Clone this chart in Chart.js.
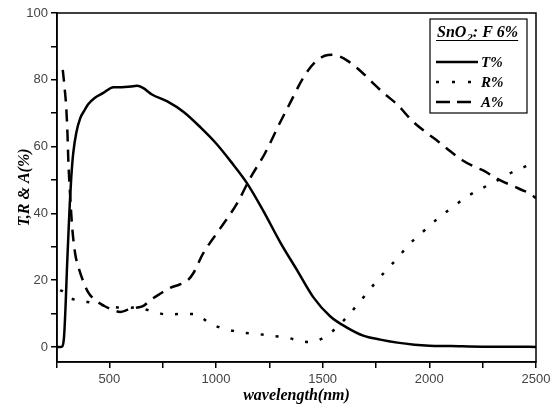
<!DOCTYPE html>
<html>
<head>
<meta charset="utf-8">
<script src="https://cdn.jsdelivr.net/npm/chart.js@4.4.1/dist/chart.umd.min.js"></script>
<style>
  html, body { margin: 0; padding: 0; background: #fff; }
  #wrap { width: 557px; height: 405px; }
</style>
</head>
<body>
<div id="wrap"><canvas id="c" width="557" height="405"></canvas></div>
<script>
// ---- data ----
const tWavelength = [255, 270, 280, 288, 295, 302, 308, 315, 322, 331, 345, 364, 385, 401, 430, 470, 520, 560, 600, 630, 660, 700, 770, 850, 930, 1000, 1070, 1146, 1220, 1300, 1380, 1455, 1535, 1614, 1690, 1770, 1850, 1930, 2000, 2100, 2250, 2400, 2500];
const tValues     = [0, 0, 0.2, 3, 12, 24, 33, 43, 51, 58, 64, 68.5, 71, 72.7, 74.5, 76, 77.8, 77.8, 78, 78.2, 77.5, 75.6, 73.6, 70.3, 65.6, 61, 55.5, 49, 41, 31.5, 23, 15, 9.2, 5.8, 3.4, 2.2, 1.3, 0.7, 0.4, 0.3, 0.1, 0.1, 0];

const rWavelength = [270, 284, 300, 320, 350, 385, 420, 470, 520, 565, 631, 665, 700, 771, 841, 907, 940, 973, 1043, 1123, 1193, 1263, 1333, 1394, 1430, 1474, 1510, 1544, 1580, 1614, 1670, 1731, 1787, 1848, 1904, 1970, 2040, 2106, 2176, 2247, 2317, 2378, 2448, 2500];
const rValues     = [17, 16.5, 15, 14.5, 14, 13.6, 13.2, 12.5, 12, 11.7, 11.8, 11.3, 10.8, 9.7, 9.9, 9.8, 8.5, 7, 5.4, 4.3, 3.9, 3.3, 2.8, 1.8, 1.5, 1.9, 3, 4.6, 6.7, 9, 13.2, 18, 22.2, 26.4, 30.6, 34.5, 38.5, 41.7, 45, 47.5, 49.8, 52, 54, 55.5];

const aWavelength = [282, 290, 298, 304, 308, 316, 326, 340, 355, 373, 400, 434, 471, 510, 551, 590, 631, 660, 692, 740, 785, 830, 865, 893, 940, 1020, 1099, 1160, 1230, 1291, 1347, 1408, 1460, 1510, 1545, 1580, 1619, 1680, 1736, 1790, 1848, 1923, 2000, 2040, 2100, 2153, 2210, 2261, 2300, 2345, 2390, 2434, 2470, 2500];
const aValues     = [83, 78, 72, 64, 56, 46, 36, 28, 24, 20.5, 16.5, 14, 12.5, 11.3, 10.5, 11.2, 11.8, 12.3, 14, 16, 17.7, 18.7, 19.8, 22, 28, 35.5, 43, 50.5, 58, 66, 73, 80.5, 85, 87.2, 87.5, 87, 85.6, 82.5, 79, 75.8, 72.7, 67.5, 63.5, 61.6, 58.5, 56, 54, 52.6, 51, 49.5, 48.3, 47, 46, 44.5];

const xTickValues = [255, 500, 750, 1000, 1250, 1500, 1750, 2000, 2250, 2500];
const yTickValues = [0, 10, 20, 30, 40, 50, 60, 70, 80, 90, 100];
const seriesLabels = ['T%', 'R%', 'A%'];
const legendTitle = ['SnO', '2', ': F 6%'];
const xTitle = 'wavelength(nm)';
const yTitle = 'T,R & A(%)';

function pts(xs, ys) { return xs.map((x, i) => ({ x: x, y: ys[i] })); }

const serif = '"Liberation Serif", "Times New Roman", serif';

const framePlugin = {
  id: 'frameAndLegend',
  afterDraw(chart) {
    const ctx = chart.ctx;
    const a = chart.chartArea;
    ctx.save();
    // plot frame
    ctx.strokeStyle = '#000';
    ctx.lineWidth = 1.5;
    ctx.strokeRect(a.left, a.top, a.right - a.left, a.bottom - a.top);

    // legend box
    const bx = 430, by = 19, bw = 97, bh = 94;
    ctx.fillStyle = '#fff';
    ctx.fillRect(bx, by, bw, bh);
    ctx.lineWidth = 1.2;
    ctx.strokeRect(bx, by, bw, bh);

    // legend title with subscript and underline
    ctx.fillStyle = '#000';
    ctx.textBaseline = 'alphabetic';
    ctx.textAlign = 'left';
    let x = 437;
    const base = 37;
    ctx.font = 'bold italic 16px ' + serif;
    ctx.fillText(legendTitle[0], x, base);
    x += ctx.measureText(legendTitle[0]).width + 1;
    ctx.font = 'bold italic 11px ' + serif;
    ctx.fillText(legendTitle[1], x, base + 4);
    x += ctx.measureText(legendTitle[1]).width;
    ctx.font = 'bold italic 16px ' + serif;
    ctx.fillText(legendTitle[2], x, base);
    x += ctx.measureText(legendTitle[2]).width;
    ctx.lineWidth = 1;
    ctx.beginPath();
    ctx.moveTo(436, base + 3.5);
    ctx.lineTo(x, base + 3.5);
    ctx.stroke();

    // legend entries
    const ds = chart.data.datasets;
    const rows = [62, 82, 102];
    ctx.font = 'bold italic 15px ' + serif;
    rows.forEach((y, i) => {
      const d = ds[i];
      ctx.save();
      ctx.strokeStyle = '#000';
      ctx.lineWidth = d.borderWidth;
      ctx.lineCap = 'butt';
      if (i === 1) ctx.setLineDash([3, 13]);
      if (i === 2) ctx.setLineDash([14, 7]);
      ctx.beginPath();
      ctx.moveTo(436, y);
      ctx.lineTo(478, y);
      ctx.stroke();
      ctx.restore();
      ctx.fillStyle = '#000';
      ctx.textBaseline = 'middle';
      ctx.fillText(d.label, 481, y + 1);
    });
    ctx.restore();
  }
};

new Chart(document.getElementById('c'), {
  type: 'scatter',
  data: {
    datasets: [
      { label: seriesLabels[0], data: pts(tWavelength, tValues), showLine: true, borderColor: '#000', borderWidth: 2.5, pointRadius: 0, cubicInterpolationMode: 'monotone' },
      { label: seriesLabels[1], data: pts(rWavelength, rValues), showLine: true, borderColor: '#000', borderWidth: 2.5, borderDash: [3, 12], pointRadius: 0, cubicInterpolationMode: 'monotone' },
      { label: seriesLabels[2], data: pts(aWavelength, aValues), showLine: true, borderColor: '#000', borderWidth: 2.5, borderDash: [12, 8], pointRadius: 0, cubicInterpolationMode: 'monotone' }
    ]
  },
  options: {
    responsive: false,
    animation: false,
    devicePixelRatio: 1,
    layout: { padding: { top: 13, right: 21, left: 0, bottom: 0 } },
    plugins: { legend: { display: false }, tooltip: { enabled: false } },
    scales: {
      x: {
        type: 'linear',
        min: 255, max: 2500,
        afterBuildTicks: s => { s.ticks = xTickValues.map(v => ({ value: v })); },
        afterFit: s => { s.height = 43; },
        ticks: {
          autoSkip: false, maxRotation: 0, padding: 4,
          color: '#444', font: { family: '"Liberation Sans", Arial, sans-serif', size: 13 },
          callback: v => (v % 500 === 0 ? String(v) : '')
        },
        grid: { drawOnChartArea: false, drawTicks: true, tickLength: 6, color: '#000', lineWidth: 1.5 },
        border: { display: true, color: '#000', width: 1.5 },
        title: { display: true, text: xTitle, color: '#000', padding: { top: 0, bottom: 0 }, font: { family: serif, size: 16, style: 'italic', weight: 'bold' } }
      },
      y: {
        min: -4.5, max: 100,
        afterBuildTicks: s => { s.ticks = yTickValues.map(v => ({ value: v })); },
        afterFit: s => { s.width = 57; },
        ticks: {
          autoSkip: false, padding: 3,
          color: '#444', font: { family: '"Liberation Sans", Arial, sans-serif', size: 13 },
          callback: v => (v % 20 === 0 ? String(v) : '')
        },
        grid: { drawOnChartArea: false, drawTicks: true, tickLength: 6, color: '#000', lineWidth: 1.5 },
        border: { display: true, color: '#000', width: 1.5 },
        title: { display: true, text: yTitle, color: '#000', padding: { top: 15, bottom: 0 }, font: { family: serif, size: 16, style: 'italic', weight: 'bold' } }
      }
    }
  },
  plugins: [framePlugin]
});
</script>
</body>
</html>
